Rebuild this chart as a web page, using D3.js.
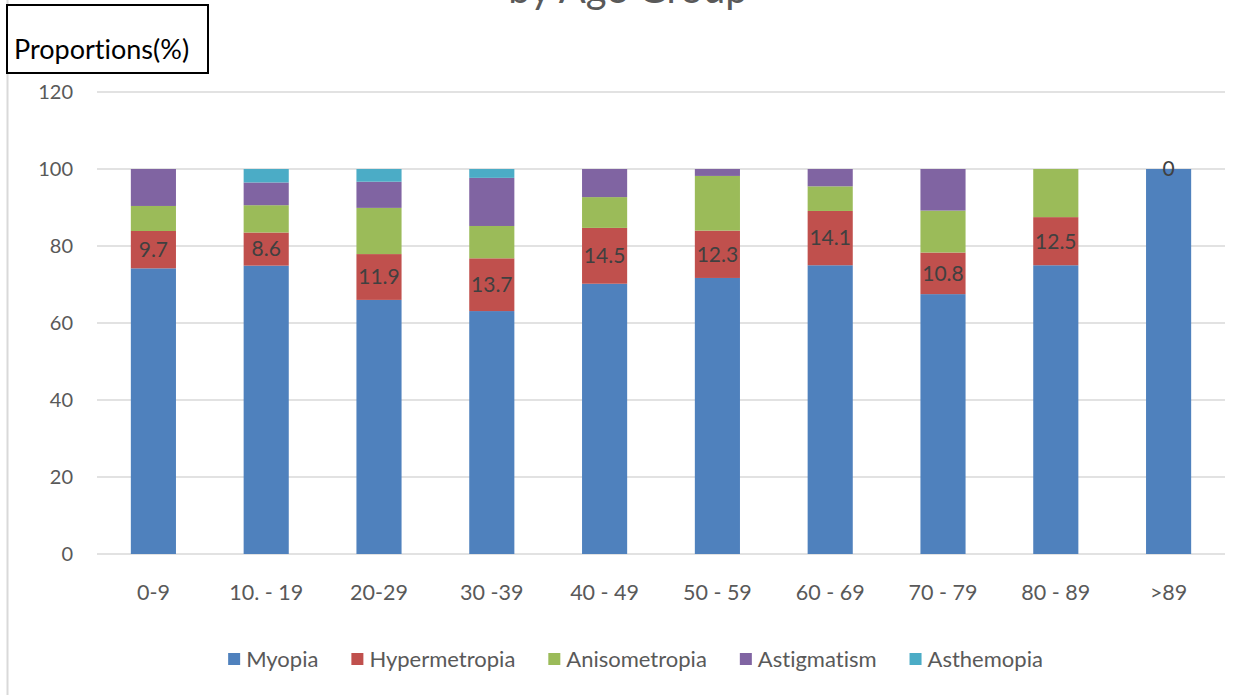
<!DOCTYPE html>
<html>
<head>
<meta charset="utf-8">
<script src="https://cdn.jsdelivr.net/npm/d3@7"></script>
<style>
  html, body { margin: 0; padding: 0; background: #fff; }
  svg { display: block; font-family: Lato, "Open Sans", sans-serif; font-variant-ligatures: none; font-feature-settings: "liga" 0, "clig" 0; }
</style>
</head>
<body>
<svg id="chart" width="1253" height="695"></svg>
<script>
const categories = ["0-9", "10. - 19", "20-29", "30 -39", "40 - 49", "50 - 59", "60 - 69", "70 - 79", "80 - 89", ">89"];
const seriesNames = ["Myopia", "Hypermetropia", "Anisometropia", "Astigmatism", "Asthemopia"];
const myopia        = [74.2, 74.9, 66.0, 63.1, 70.2, 71.7, 75.0, 67.5, 75.0, 100];
const hypermetropia = [9.7, 8.6, 11.9, 13.7, 14.5, 12.3, 14.1, 10.8, 12.5, 0];
const anisometropia = [6.5, 7.1, 12.0, 8.4, 8.0, 14.2, 6.4, 10.9, 12.5, 0];
const astigmatism   = [9.6, 5.9, 6.8, 12.5, 7.3, 1.8, 4.5, 10.8, 0, 0];
const asthemopia    = [0, 3.5, 3.3, 2.3, 0, 0, 0, 0, 0, 0];
const yTicks = [0, 20, 40, 60, 80, 100, 120];
const colors = ["#4f81bd", "#c0504d", "#9bbb59", "#8064a2", "#4bacc6"];

const seriesValues = [myopia, hypermetropia, anisometropia, astigmatism, asthemopia];
const rows = categories.map((c, i) => {
  const r = { cat: c };
  seriesNames.forEach((s, j) => r[s] = seriesValues[j][i]);
  return r;
});

const svg = d3.select("#chart");
const plotL = 97, plotR = 1225, plotT = 92, plotB = 554;

const x = d3.scaleBand().domain(categories).range([plotL, plotR]).paddingInner(0.6).paddingOuter(0.3);
const y = d3.scaleLinear().domain([0, 120]).range([plotB, plotT]);

// title (upper part clipped by the page edge, as in the reference)
svg.append("text").attr("x", 628).attr("y", 3).attr("text-anchor", "middle")
  .attr("font-size", 40).attr("fill", "#595959").text("by Age Group");

// left chart border
svg.append("line").attr("x1", 7.5).attr("x2", 7.5).attr("y1", 0).attr("y2", 695)
  .attr("stroke", "#d9d9d9").attr("stroke-width", 2);

// gridlines
svg.append("g").selectAll("line").data(yTicks).join("line")
  .attr("x1", plotL).attr("x2", plotR)
  .attr("y1", d => y(d)).attr("y2", d => y(d))
  .attr("stroke", "#d9d9d9").attr("stroke-width", 1.5);

// y tick labels
svg.append("g").selectAll("text").data(yTicks).join("text")
  .attr("x", 73).attr("y", d => y(d)).attr("dy", "0.35em")
  .attr("text-anchor", "end").attr("font-size", 20).attr("fill", "#595959")
  .text(d => d);

// stacked bars
const stack = d3.stack().keys(seriesNames)(rows);
const gBars = svg.append("g");
stack.forEach((layer, j) => {
  gBars.append("g").attr("fill", colors[j]).selectAll("rect").data(layer).join("rect")
    .attr("x", d => x(d.data.cat))
    .attr("width", x.bandwidth())
    .attr("y", d => y(d[1]))
    .attr("height", d => y(d[0]) - y(d[1]));
});

// hypermetropia labels
const hyperLayer = stack[1];
svg.append("g").selectAll("text").data(hyperLayer).join("text")
  .attr("x", d => x(d.data.cat) + x.bandwidth() / 2)
  .attr("y", d => y((d[0] + d[1]) / 2)).attr("dy", "0.35em")
  .attr("text-anchor", "middle").attr("font-size", 21).attr("fill", "#404040")
  .text(d => d.data["Hypermetropia"]);

// x labels
svg.append("g").selectAll("text").data(categories).join("text")
  .attr("x", d => x(d) + x.bandwidth() / 2).attr("y", 600)
  .attr("text-anchor", "middle").attr("font-size", 21.5).attr("fill", "#595959")
  .text(d => d);

// y axis title box
svg.append("rect").attr("x", 7).attr("y", 5).attr("width", 201).attr("height", 68)
  .attr("fill", "#fff").attr("stroke", "#000").attr("stroke-width", 2);
svg.append("text").attr("x", 14).attr("y", 59).attr("font-size", 27).attr("fill", "#000")
  .text("Proportions(%)");

// legend
const lg = svg.append("g");
let cx = 0;
seriesNames.forEach((s, j) => {
  const g = lg.append("g");
  g.append("rect").attr("x", 0).attr("y", -6).attr("width", 12).attr("height", 12).attr("fill", colors[j]);
  const t = g.append("text").attr("x", 18).attr("y", 0).attr("dy", "0.35em")
    .attr("font-size", 22).attr("fill", "#595959").text(s);
  const w = 18 + t.node().getComputedTextLength();
  g.attr("transform", `translate(${cx},0)`);
  cx += w + 33;
});
const totalW = cx - 33;
lg.attr("transform", `translate(${635.5 - totalW / 2},659)`);
</script>
</body>
</html>
